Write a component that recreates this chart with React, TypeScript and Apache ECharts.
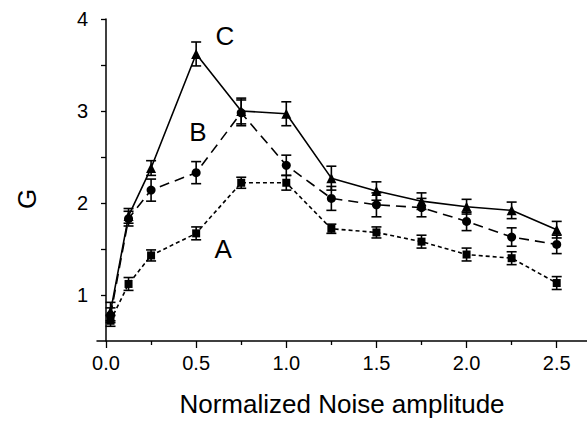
import React, { useEffect, useRef } from "react";
import * as echarts from "echarts";

const xValues = [0.025, 0.125, 0.25, 0.5, 0.75, 1.0, 1.25, 1.5, 1.75, 2.0, 2.25, 2.5];
const seriesC = [0.82, 1.86, 2.38, 3.62, 3.0, 2.97, 2.27, 2.13, 2.02, 1.96, 1.92, 1.71];
const errC = [0.1, 0.08, 0.08, 0.13, 0.14, 0.13, 0.13, 0.1, 0.09, 0.08, 0.09, 0.09];
const seriesB = [0.78, 1.83, 2.14, 2.33, 2.98, 2.41, 2.05, 1.98, 1.95, 1.8, 1.63, 1.55];
const errB = [0.08, 0.08, 0.12, 0.12, 0.14, 0.11, 0.13, 0.13, 0.1, 0.1, 0.1, 0.1];
const seriesA = [0.72, 1.12, 1.43, 1.67, 2.22, 2.22, 1.72, 1.68, 1.58, 1.44, 1.4, 1.13];
const errA = [0.06, 0.07, 0.06, 0.07, 0.06, 0.08, 0.05, 0.06, 0.07, 0.07, 0.07, 0.07];

const xMajorTicks = [0, 0.5, 1.0, 1.5, 2.0, 2.5];
const xMinorTicks = [0.25, 0.75, 1.25, 1.75, 2.25];
const yLabelTicks = [1, 2, 3, 4];
const yAllTicks = [1, 1.5, 2, 2.5, 3, 3.5, 4];

const curveLabels = [
  { name: "C", x: 0.66, y: 3.81 },
  { name: "B", x: 0.51, y: 2.77 },
  { name: "A", x: 0.65, y: 1.5 },
];

const FONT = "'Liberation Sans', Arial, Helvetica, sans-serif";

function pairs(ys: number[]) {
  return ys.map((v, i) => [xValues[i], v]);
}
function errTriples(ys: number[], es: number[]) {
  return ys.map((v, i) => [xValues[i], v, es[i]]);
}

function errorBarSeries(ys: number[], es: number[]) {
  return {
    type: "custom",
    xAxisIndex: 0,
    yAxisIndex: 0,
    data: errTriples(ys, es),
    z: 3,
    renderItem: (params: any, api: any) => {
      const x = api.value(0);
      const y = api.value(1);
      const e = api.value(2);
      const top = api.coord([x, y + e]);
      const bot = api.coord([x, y - e]);
      const hw = 5;
      const style = { stroke: "#000", lineWidth: 1.6 };
      return {
        type: "group",
        children: [
          { type: "line", shape: { x1: top[0], y1: top[1], x2: bot[0], y2: bot[1] }, style },
          { type: "line", shape: { x1: top[0] - hw, y1: top[1], x2: top[0] + hw, y2: top[1] }, style },
          { type: "line", shape: { x1: bot[0] - hw, y1: bot[1], x2: bot[0] + hw, y2: bot[1] }, style },
        ],
      };
    },
  };
}

export default function App() {
  const ref = useRef<HTMLDivElement>(null);
  useEffect(() => {
    if (!ref.current) return;
    const chart = echarts.init(ref.current, null, { renderer: "svg" });
    const axisLineStyle = { color: "#000", width: 1.5 };
    chart.setOption({
      animation: false,
      backgroundColor: "#fff",
      textStyle: { fontFamily: FONT },
      grid: { left: 97, right: 0, top: 19, bottom: 79 },
      xAxis: [
        {
          type: "value",
          position: "bottom",
          min: -0.05,
          max: 2.668,
          name: "Normalized Noise amplitude",
          nameLocation: "middle",
          nameGap: 50,
          nameTextStyle: { fontSize: 26, color: "#000", fontFamily: FONT },
          axisLine: { show: true, lineStyle: axisLineStyle },
          axisTick: { show: true, length: 7, inside: false, customValues: xMajorTicks, lineStyle: { color: "#000", width: 1.3 } },
          axisLabel: {
            show: true,
            customValues: xMajorTicks,
            margin: 12,
            fontSize: 20,
            color: "#000",
            fontFamily: FONT,
            formatter: (v: number) => v.toFixed(1),
          },
          splitLine: { show: false },
        },
        {
          type: "value",
          position: "bottom",
          min: -0.05,
          max: 2.668,
          axisLine: { show: false },
          axisTick: { show: true, length: 4, customValues: xMinorTicks, lineStyle: { color: "#000", width: 1.3 } },
          axisLabel: { show: false },
          splitLine: { show: false },
        },
      ],
      yAxis: {
        type: "value",
        min: 0.5,
        max: 4,
        offset: -5,
        axisLine: { show: true, lineStyle: axisLineStyle },
        axisTick: { show: true, length: 5, customValues: yAllTicks, lineStyle: { color: "#000", width: 1.3 } },
        axisLabel: {
          show: true,
          customValues: yLabelTicks,
          margin: 14,
          fontSize: 20,
          color: "#000",
          fontFamily: FONT,
        },
        splitLine: { show: false },
      },
      graphic: [
        {
          type: "text",
          x: 27,
          y: 199,
          rotation: Math.PI / 2,
          style: {
            text: "G",
            fontSize: 26,
            fontFamily: FONT,
            fill: "#000",
            align: "center",
            verticalAlign: "middle",
          },
        },
      ],
      series: [
        errorBarSeries(seriesA, errA),
        errorBarSeries(seriesB, errB),
        errorBarSeries(seriesC, errC),
        {
          type: "line",
          name: "A",
          data: pairs(seriesA),
          symbol: "rect",
          symbolSize: 8,
          itemStyle: { color: "#000" },
          lineStyle: { color: "#000", width: 1.6, type: [4, 3] },
          z: 4,
        },
        {
          type: "line",
          name: "B",
          data: pairs(seriesB),
          symbol: "circle",
          symbolSize: 9,
          itemStyle: { color: "#000" },
          lineStyle: { color: "#000", width: 1.6, type: [10, 6] },
          z: 4,
        },
        {
          type: "line",
          name: "C",
          data: pairs(seriesC),
          symbol: "triangle",
          symbolSize: 10,
          itemStyle: { color: "#000" },
          lineStyle: { color: "#000", width: 1.6, type: "solid" },
          z: 4,
        },
        {
          type: "scatter",
          data: curveLabels.map((l) => ({ name: l.name, value: [l.x, l.y] })),
          symbolSize: 1,
          itemStyle: { color: "#000", opacity: 0 },
          label: {
            show: true,
            position: "inside",
            formatter: (p: any) => p.name,
            fontSize: 26,
            color: "#000",
            opacity: 1,
            textBorderWidth: 0,
            fontFamily: FONT,
          },
          z: 5,
        },
      ],
    });
    return () => chart.dispose();
  }, []);
  return (
    <div
      ref={ref}
      style={{ position: "fixed", left: 0, top: 0, width: 587, height: 422, background: "#fff" }}
    />
  );
}
